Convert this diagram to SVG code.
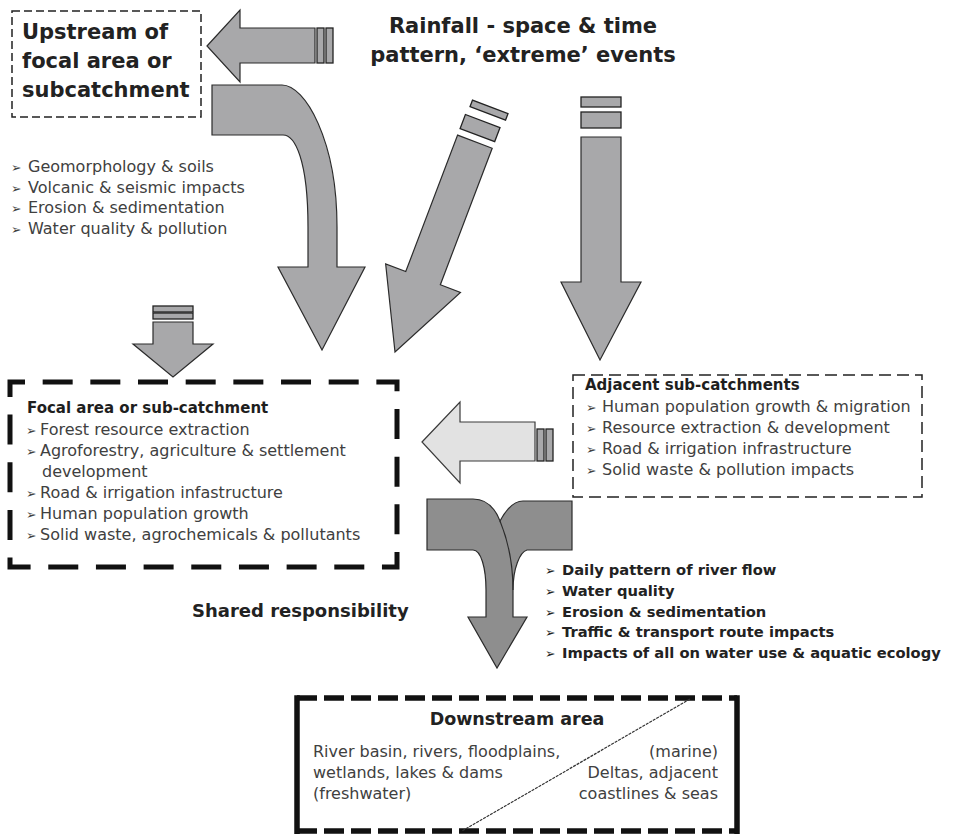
<svg xmlns="http://www.w3.org/2000/svg" width="956" height="834" viewBox="0 0 956 834">
<style>
.arrow{fill:#a8a8aa;stroke:#2b2b2b;stroke-width:1.2;stroke-linejoin:miter}
.dark{fill:#8e8e8e}
.light{fill:#e2e2e2;stroke:#3a3a3a}
.bar{fill:#a8a8aa;stroke:#222;stroke-width:1.3}
text{font-family:"DejaVu Sans",Verdana,sans-serif}
.item{font-size:16px;fill:#404040}
.hd{font-weight:bold;font-size:15px;fill:#1e1e1e}
.big{font-weight:bold;font-size:21px;fill:#222}
.flow{font-weight:bold;font-size:14.7px;fill:#222}
.bl{font-size:12.5px}
.thin{fill:none;stroke:#222;stroke-width:1.5}
</style>

<g id="connectors">
  <path class="arrow" d="M207,46 L240,10 V28 H315 V63 H240 V82 Z"/>
  <rect class="bar" x="317" y="28" width="7" height="35"/>
  <rect class="bar" x="326" y="28" width="7" height="35"/>
  <path class="arrow" d="M212,85 H282 C305,85 337,140 337,227 V267 H365 L322,350 L278,267 H308 V227 C308,160 295,135 283,135 H212 Z"/>
  <g transform="translate(395,352) rotate(20.8)">
    <path class="arrow" d="M0,0 L-40,-79 L-18.5,-79 L-18.5,-225 L18.5,-225 L18.5,-79 L40,-79 Z"/>
    <rect class="bar" x="-18.5" y="-247" width="37" height="15"/>
    <rect class="bar" x="-17" y="-263" width="38" height="7"/>
  </g>
  <path class="arrow" d="M581,137 H621 V282 H641 L600,360 L561,282 H581 Z"/>
  <rect class="bar" x="581" y="112" width="40" height="16"/>
  <rect class="bar" x="581" y="97" width="40" height="10"/>
  <rect class="bar" x="153" y="306" width="40" height="6"/>
  <rect class="bar" x="153" y="313" width="40" height="6"/>
  <path class="arrow" d="M153,322 H193 V344 H213 L173,377 L133,344 H153 Z"/>
  <path class="arrow light" d="M422,442 L460,402 V422 H535 V461 H460 V483 Z"/>
  <rect class="bar light" x="537" y="429" width="7" height="32"/>
  <rect class="bar light" x="546" y="429" width="7" height="32"/>
  <path class="arrow dark" d="M427,499 H473 C486,499 495,508 500,521 C507,508 515,501 523,501 H572 V550 H527 C520,552 513,568 513,590 V617 H527 L497,668 L468,617 H486 V590 C486,568 481,550 473,550 H427 Z"/>
  <path fill="none" stroke="#2b2b2b" stroke-width="1.2" d="M500,521 C507,538 513,560 513,590"/>
</g>

<g id="upstream">
  <rect class="thin" x="12" y="11" width="189" height="106" stroke-dasharray="8 4"/>
  <text class="big" x="22" y="39">Upstream of</text>
  <text class="big" x="22" y="68">focal area or</text>
  <text class="big" x="22" y="97">subcatchment</text>
</g>

<g id="rainfall">
  <text class="big" x="523" y="33" text-anchor="middle" font-size="21.5">Rainfall - space &amp; time</text>
  <text class="big" x="523" y="62" text-anchor="middle" font-size="21.5">pattern, ‘extreme’ events</text>
</g>

<g id="upstream-issues">
  <text class="item" x="11" y="172"><tspan class="bl">➢</tspan><tspan x="28">Geomorphology &amp; soils</tspan></text>
  <text class="item" x="11" y="193"><tspan class="bl">➢</tspan><tspan x="28">Volcanic &amp; seismic impacts</tspan></text>
  <text class="item" x="11" y="213"><tspan class="bl">➢</tspan><tspan x="28">Erosion &amp; sedimentation</tspan></text>
  <text class="item" x="11" y="234"><tspan class="bl">➢</tspan><tspan x="28">Water quality &amp; pollution</tspan></text>
</g>

<g id="focal">
  <rect x="10" y="382" width="387" height="185" fill="none" stroke="#111" stroke-width="5" stroke-dasharray="30 17.67" stroke-dashoffset="15"/>
  <text class="hd" x="27" y="413">Focal area or sub-catchment</text>
  <text class="item" x="26" y="435"><tspan class="bl">➢</tspan><tspan x="40">Forest resource extraction</tspan></text>
  <text class="item" x="26" y="456"><tspan class="bl">➢</tspan><tspan x="40">Agroforestry, agriculture &amp; settlement</tspan></text>
  <text class="item" x="42" y="477">development</text>
  <text class="item" x="26" y="498"><tspan class="bl">➢</tspan><tspan x="40">Road &amp; irrigation infastructure</tspan></text>
  <text class="item" x="26" y="519"><tspan class="bl">➢</tspan><tspan x="40">Human population growth</tspan></text>
  <text class="item" x="26" y="540"><tspan class="bl">➢</tspan><tspan x="40">Solid waste, agrochemicals &amp; pollutants</tspan></text>
</g>

<g id="adjacent">
  <rect class="thin" x="573" y="375" width="349" height="122" stroke-dasharray="12 6"/>
  <text class="hd" x="585" y="390">Adjacent sub-catchments</text>
  <text class="item" x="586" y="412"><tspan class="bl">➢</tspan><tspan x="602">Human population growth &amp; migration</tspan></text>
  <text class="item" x="586" y="433"><tspan class="bl">➢</tspan><tspan x="602">Resource extraction &amp; development</tspan></text>
  <text class="item" x="586" y="454"><tspan class="bl">➢</tspan><tspan x="602">Road &amp; irrigation infrastructure</tspan></text>
  <text class="item" x="586" y="475"><tspan class="bl">➢</tspan><tspan x="602">Solid waste &amp; pollution impacts</tspan></text>
</g>

<g id="flow-impacts">
  <text class="flow" x="545" y="575"><tspan class="bl">➢</tspan><tspan x="562">Daily pattern of river flow</tspan></text>
  <text class="flow" x="545" y="596"><tspan class="bl">➢</tspan><tspan x="562">Water quality</tspan></text>
  <text class="flow" x="545" y="617"><tspan class="bl">➢</tspan><tspan x="562">Erosion &amp; sedimentation</tspan></text>
  <text class="flow" x="545" y="637"><tspan class="bl">➢</tspan><tspan x="562">Traffic &amp; transport route impacts</tspan></text>
  <text class="flow" x="545" y="658"><tspan class="bl">➢</tspan><tspan x="562">Impacts of all on water use &amp; aquatic ecology</tspan></text>
</g>

<g id="shared">
  <text x="192" y="617" font-weight="bold" font-size="18" fill="#222">Shared responsibility</text>
</g>

<g id="downstream">
  <line x1="297" y1="698" x2="737" y2="698" stroke="#111" stroke-width="5.5" stroke-dasharray="20 7"/>
  <line x1="297" y1="831" x2="737" y2="831" stroke="#111" stroke-width="5.5" stroke-dasharray="20 7"/>
  <line x1="297" y1="695.25" x2="297" y2="834" stroke="#111" stroke-width="5.5"/>
  <line x1="737" y1="695.25" x2="737" y2="834" stroke="#111" stroke-width="5.5"/>
  <line x1="690" y1="699" x2="462" y2="831" stroke="#333" stroke-width="1.2" stroke-dasharray="3 1"/>
  <text x="517" y="725" text-anchor="middle" font-weight="bold" font-size="17.5" fill="#222">Downstream area</text>
  <text class="item" x="313" y="757">River basin, rivers, floodplains,</text>
  <text class="item" x="313" y="778">wetlands, lakes &amp; dams</text>
  <text class="item" x="313" y="799">(freshwater)</text>
  <text class="item" x="718" y="757" text-anchor="end">(marine)</text>
  <text class="item" x="718" y="778" text-anchor="end">Deltas, adjacent</text>
  <text class="item" x="718" y="799" text-anchor="end">coastlines &amp; seas</text>
</g>
</svg>
